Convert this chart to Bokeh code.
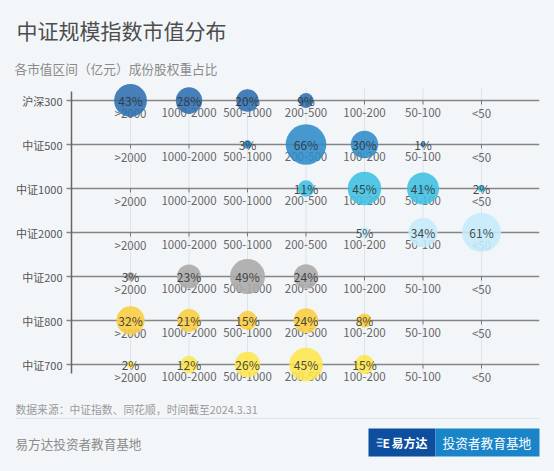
import math
from bokeh.plotting import figure
from bokeh.models import ColumnDataSource, Range1d, FixedTicker
from bokeh.layouts import column
from bokeh.core.properties import value
from bokeh.embed import file_html
from bokeh.resources import INLINE

# ---------------- data ----------------
indices = ["沪深300", "中证500", "中证1000", "中证2000", "中证200", "中证800", "中证700"]
buckets = [">2000", "1000-2000", "500-1000", "200-500", "100-200", "50-100", "<50"]
hs300 = [43, 28, 20, 9, None, None, None]
zz500 = [None, None, 3, 66, 30, 1, None]
zz1000 = [None, None, None, 11, 45, 41, 2]
zz2000 = [None, None, None, None, 5, 34, 61]
zz200 = [3, 23, 49, 24, None, None, None]
zz800 = [32, 21, 15, 24, 8, None, None]
zz700 = [2, 12, 26, 45, 15, None, None]
series = [hs300, zz500, zz1000, zz2000, zz200, zz800, zz700]
colors = ["#2e6eaf", "#2d8bc7", "#3fc0e2", "#c5ecfa", "#a9a9a9", "#f9cd3f", "#fde64b"]

title = "中证规模指数市值分布"
subtitle = "各市值区间（亿元）成份股权重占比"
source_note = "数据来源：中证指数、同花顺，时间截至2024.3.31"
brand = "易方达投资者教育基地"

BG = "#f3f6f9"
FONT = value("Noto Sans CJK SC")

# ---------------- main chart ----------------
XL, XR = -0.1282, 7.9915
YB, YT = 6.5909, -0.5
p = figure(width=538, height=312, x_range=Range1d(XL, XR), y_range=Range1d(YB, YT),
           output_backend="svg", toolbar_location=None,
           x_axis_location=None, y_axis_location="left",
           min_border_left=56, min_border_right=7, min_border_top=0, min_border_bottom=0,
           background_fill_color=BG, border_fill_color=BG, outline_line_color=None)
p.frame_align = False
p.grid.visible = False

ax = p.yaxis[0]
ax.ticker = FixedTicker(ticks=list(range(len(indices))))
ax.major_label_overrides = {i: n for i, n in enumerate(indices)}
ax.axis_line_color = None
ax.major_tick_line_color = None
ax.minor_tick_line_color = None
ax.major_tick_out = 0
ax.major_tick_in = 0
ax.major_label_standoff = 2
ax.major_label_text_font = "Noto Sans CJK SC"
ax.major_label_text_font_size = "11px"
ax.major_label_text_color = "#555555"

xs = [j + 1 for j in range(len(buckets))]
nrows = len(indices)

# light vertical grid lines
p.segment(x0=xs, x1=xs, y0=[-0.3] * len(xs), y1=[nrows - 1 + 0.2045] * len(xs),
          line_color="#dfe4e9", line_width=1)

# row baselines
rows = list(range(nrows))
p.segment(x0=[-0.094] * nrows, x1=[XR] * nrows, y0=rows, y1=rows,
          line_color="#858585", line_width=1.6)

# left axis line
p.segment(x0=[-0.0085], x1=[-0.0085], y0=[-0.2045], y1=[nrows - 1 + 0.2045],
          line_color="#666666", line_width=1.5)

# tick marks and tick labels per row
tx, ty, tl = [], [], []
for i in rows:
    for j, b in enumerate(buckets):
        tx.append(j + 1)
        ty.append(i)
        tl.append(b)
p.segment(x0=tx, x1=tx, y0=ty, y1=[t + 0.09 for t in ty], line_color="#777777", line_width=1)
p.text(x=tx, y=ty, text=tl, y_offset=12, text_align="center", text_baseline="middle",
       text_font=FONT, text_font_size="11.5px", text_color="#666666")

# bubbles
bx, by, bs, bc, bl = [], [], [], [], []
for i, vals in enumerate(series):
    for j, v in enumerate(vals):
        if v is None:
            continue
        bx.append(j + 1)
        by.append(i)
        bs.append(5.0 * math.sqrt(v))
        bc.append(colors[i])
        bl.append(f"{v}%")
src = ColumnDataSource(dict(x=bx, y=by, size=bs, color=bc, label=bl))
p.scatter(x="x", y="y", size="size", fill_color="color", line_color=None,
          fill_alpha=0.88, source=src)
p.text(x="x", y="y", text="label", source=src, text_align="center", text_baseline="middle",
       text_font=FONT, text_font_size="12px", text_color="#333333", text_alpha=0.9)


def blank(height):
    fig = figure(width=538, height=height, x_range=Range1d(0, 538), y_range=Range1d(height, 0),
                 output_backend="svg", toolbar_location=None,
                 x_axis_location=None, y_axis_location=None,
                 min_border_left=0, min_border_right=0, min_border_top=0, min_border_bottom=0,
                 background_fill_color=BG, border_fill_color=BG, outline_line_color=None)
    fig.frame_align = False
    fig.grid.visible = False
    return fig


# ---------------- header ----------------
h = blank(70)
h.text(x=[8], y=[21], text=[title], text_font=FONT, text_font_size="21px",
       text_color="#4d4d4d", text_baseline="middle")
h.text(x=[6], y=[60], text=[subtitle], text_font=FONT, text_font_size="12.7px",
       text_color="#8a8a8a", text_baseline="middle")

# ---------------- footer ----------------
f = blank(73)
f.text(x=[7], y=[18], text=[source_note], text_font=FONT, text_font_size="10.8px",
       text_color="#9a9a9a", text_baseline="middle")
f.segment(x0=[7], x1=[531], y0=[28], y1=[28], line_color="#e0e4e9", line_width=1.2)
f.text(x=[7], y=[53], text=[brand], text_font=FONT, text_font_size="12.6px",
       text_color="#8a8a8a", text_baseline="middle")
f.quad(left=[360], right=[427], top=[38], bottom=[66], fill_color="#0d4e9e", line_color=None)
f.quad(left=[427], right=[531], top=[38], bottom=[66], fill_color="#1a84c9", line_color=None)
# small logo mark
f.segment(x0=[369, 368, 369], x1=[374, 374, 374], y0=[48.5, 52, 55.5], y1=[48.5, 52, 55.5],
          line_color="#b9d3ef", line_width=1.5)
f.text(x=[374], y=[52], text=["E"], text_font=FONT, text_font_size="12px",
       text_font_style="bold", text_color="#ffffff", text_baseline="middle")
f.text(x=[383], y=[52], text=["易方达"], text_font=FONT, text_font_size="12px",
       text_font_style="bold", text_color="#ffffff", text_baseline="middle")
f.text(x=[434], y=[52], text=["投资者教育基地"], text_font=FONT, text_font_size="12.7px",
       text_color="#ffffff", text_baseline="middle")

layout = column(h, p, f, spacing=0)
html = file_html(layout, INLINE)
html = html.replace("</head>", "<style>body{background-color:%s;margin:8px;}</style></head>" % BG, 1)
open("out.html", "w").write(html)
